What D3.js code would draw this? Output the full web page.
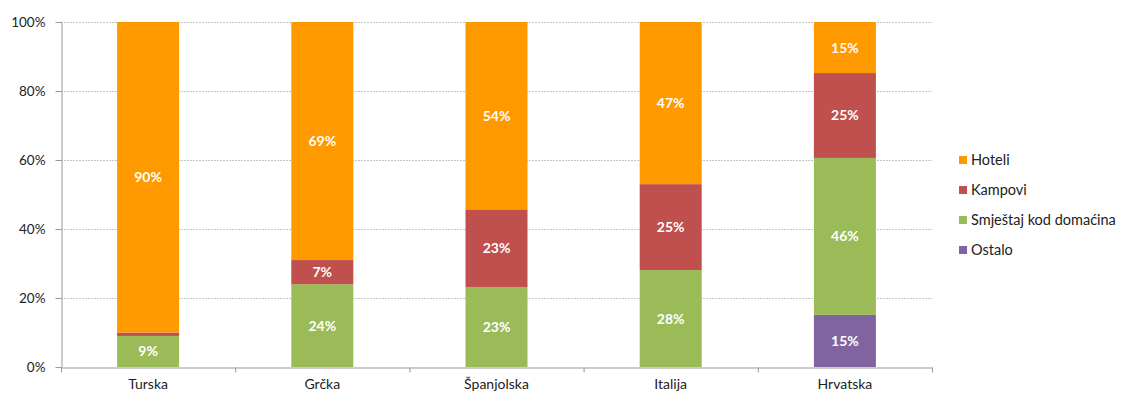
<!DOCTYPE html>
<html><head><meta charset="utf-8">
<script src="https://cdn.jsdelivr.net/npm/d3@7"></script>
<style>body{margin:0;background:#fff}svg{display:block}text{font-family:Lato,"Open Sans",sans-serif}</style>
</head><body><svg id="c" width="1126" height="394"></svg>
<script>
const categories = ["Turska","Grčka","Španjolska","Italija","Hrvatska"];
const seriesNames = ["Ostalo","Smještaj kod domaćina","Kampovi","Hoteli"];
const ostalo   = [0, 0, 0, 0, 15.1];
const smjestaj = [9, 24, 23.2, 28.1, 45.5];
const kampovi  = [1, 7, 22.5, 24.9, 24.6];
const hoteli   = [90, 69, 54.3, 47, 14.8];
const yTicks = [0,20,40,60,80,100];
const colors = {"Hoteli":"#FF9900","Kampovi":"#C0504D","Smještaj kod domaćina":"#9BBB59","Ostalo":"#8064A2"};
const legendOrder = ["Hoteli","Kampovi","Smještaj kod domaćina","Ostalo"];

const svg = d3.select("#c");
const m = {l:61, r:932, t:22, b:367};
const x = d3.scaleBand().domain(categories).range([m.l, m.r]).paddingInner(0.644).paddingOuter(0.322);
const y = d3.scaleLinear().domain([0,100]).range([m.b, m.t]);

const rows = categories.map((c,i)=>({cat:c,"Ostalo":ostalo[i],"Smještaj kod domaćina":smjestaj[i],"Kampovi":kampovi[i],"Hoteli":hoteli[i]}));
const stack = d3.stack().keys(seriesNames)(rows);

// gridlines
svg.append("g").selectAll("line").data(yTicks.filter(d=>d>0)).join("line")
  .attr("x1", m.l).attr("x2", m.r).attr("y1", d=>y(d)+0.5).attr("y2", d=>y(d)+0.5)
  .attr("stroke","#c4c4c4").attr("stroke-dasharray","2,1").attr("stroke-width",1);

// bars
const layer = svg.append("g").selectAll("g").data(stack).join("g").attr("fill", d=>colors[d.key]);
layer.selectAll("rect").data(d=>d.map(v=>({v, key:d.key}))).join("rect")
  .attr("x", d=>x(d.v.data.cat)).attr("width", x.bandwidth())
  .attr("y", d=>y(d.v[1])).attr("height", d=>y(d.v[0])-y(d.v[1]));

// labels
svg.append("g").selectAll("g").data(stack).join("g").selectAll("text")
  .data(d=>d.filter(v=>v[1]-v[0]>=3)).join("text")
  .attr("x", d=>x(d.data.cat)+x.bandwidth()/2)
  .attr("y", d=>(y(d[0])+y(d[1]))/2+5)
  .attr("text-anchor","middle").attr("fill","#fff").attr("font-weight","bold").attr("font-size",14)
  .text(d=>Math.round(d[1]-d[0])+"%");

// y axis
const ya = svg.append("g").attr("transform",`translate(${m.l+0.5},0)`)
  .call(d3.axisLeft(y).tickValues(yTicks).tickFormat(d=>d+"%").tickSize(6).tickSizeOuter(0));
ya.select(".domain").attr("stroke","#999");
ya.selectAll(".tick line").attr("stroke","#999");
ya.selectAll("text").attr("font-size",13.5).attr("fill","#222").attr("x",-16);

// x axis
const xa = svg.append("g").attr("transform",`translate(0,${m.b+0.5})`)
  .call(d3.axisBottom(x).tickSize(0).tickSizeOuter(0));
xa.select(".domain").attr("stroke","#999");
xa.selectAll("text").attr("font-size",14).attr("fill","#222").attr("dy","1.35em");
xa.append("g").selectAll("line").data(d3.range(categories.length+1)).join("line")
  .attr("x1", i=>m.l+0.5+i*(m.r-m.l)/categories.length).attr("x2", i=>m.l+0.5+i*(m.r-m.l)/categories.length)
  .attr("y1",0).attr("y2",5).attr("stroke","#999");

// legend
const lg = svg.append("g").selectAll("g").data(legendOrder).join("g")
  .attr("transform",(d,i)=>`translate(959,${160+i*30})`);
lg.append("rect").attr("x",0).attr("y",-4).attr("width",8).attr("height",8).attr("fill",d=>colors[d]);
lg.append("text").attr("x",12).attr("y",5).attr("font-size",14.5).attr("fill","#222").text(d=>d);
</script></body></html>
